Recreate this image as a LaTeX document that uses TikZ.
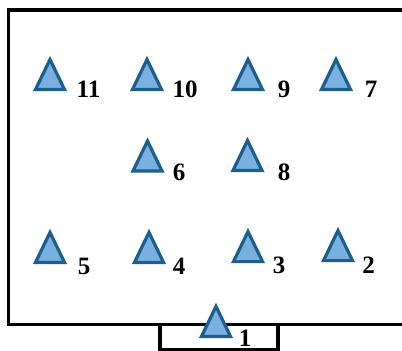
\documentclass[tikz,border=0pt]{standalone}
\usepackage{fontspec}
\setmainfont{Liberation Serif}
\definecolor{tristroke}{RGB}{28,94,140}
\definecolor{trifill}{RGB}{122,176,224}
\tikzset{
  wall/.style={draw=black, line width=3.6pt},
  tri/.style={draw=tristroke, fill=trifill, line width=3.2pt, line join=miter},
  lbl/.style={font=\fontsize{25}{25}\selectfont\bfseries, anchor=base, inner sep=0pt}
}
\newcommand{\mytri}[3]{%
  \coordinate (#1) at (#2,#3);
  \draw[tri] (#1) ++(-14.5,0) -- ++(14.5,-30) -- ++(14.5,30) -- cycle;}
\begin{document}
\begin{tikzpicture}[x=1pt,y=-1pt]
\useasboundingbox (0,0) rectangle (402,351);
\clip (0,0) rectangle (402,351);
\draw[wall] (420,10) -- (8.5,10) -- (8.5,324.5) -- (420,324.5);
\draw[wall] (160,324.5) rectangle (278,349.3);
\mytri{t11}{50}{89.5}
\mytri{t10}{147}{89.5}
\mytri{t9}{248}{89.5}
\mytri{t7}{336}{89.5}
\mytri{t6}{147.5}{171}
\mytri{t8}{247.5}{170.5}
\mytri{t5}{50}{262.4}
\mytri{t4}{149}{262.4}
\mytri{t3}{248}{261.6}
\mytri{t2}{338}{260.6}
\mytri{t1}{216}{336.4}
\node[lbl] (l11) at (88.5,97) {11};
\node[lbl] (l10) at (185,97) {10};
\node[lbl] (l9) at (284,97) {9};
\node[lbl] (l7) at (371,97) {7};
\node[lbl] (l6) at (179,180) {6};
\node[lbl] (l8) at (284,180) {8};
\node[lbl] (l5) at (84,274) {5};
\node[lbl] (l4) at (179,274) {4};
\node[lbl] (l3) at (279,273) {3};
\node[lbl] (l2) at (368.5,273) {2};
\node[lbl] (l1) at (245,346) {1};
\end{tikzpicture}
\end{document}
